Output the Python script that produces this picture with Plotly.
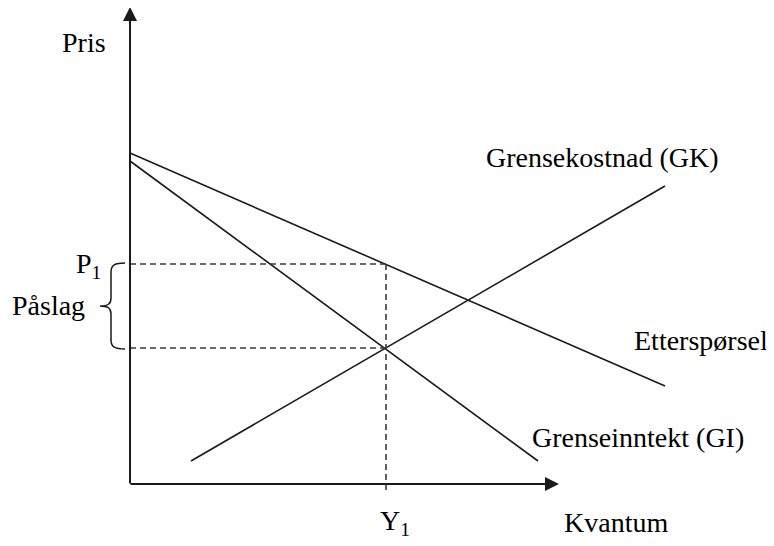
import plotly.graph_objects as go

# Model curves (data units: quantity, price)
demand_q = [0, 535]
demand_p = [331, 98]
mr_q = [0, 408]
mr_p = [323, 23]
mc_q = [61, 535]
mc_p = [23, 298]

Y1 = 256
P1 = 220
MC_AT_Y1 = 136

x_axis_max = 429
y_axis_max = 477

labels = {
    "pris": "Pris",
    "kvantum": "Kvantum",
    "gk": "Grensekostnad (GK)",
    "ett": "Etterspørsel",
    "gi": "Grenseinntekt (GI)",
    "p1": "P<sub>1</sub>",
    "y1": "Y<sub>1</sub>",
    "paslag": "Påslag",
}

FONT = "Liberation Serif, Times New Roman, serif"
LINE = "#1a1a1a"
DASH = "#3a3a3a"
FS = 28

fig = go.Figure()
for q, p in [(demand_q, demand_p), (mr_q, mr_p), (mc_q, mc_p)]:
    fig.add_trace(go.Scatter(x=q, y=p, mode="lines",
                             line=dict(color=LINE, width=1.6),
                             showlegend=False, hoverinfo="skip"))

# dashed guides
dash_style = dict(color=DASH, width=1.6, dash="6px,4px")
fig.add_trace(go.Scatter(x=[0, Y1], y=[P1, P1], mode="lines",
                         line=dash_style, showlegend=False, hoverinfo="skip"))
fig.add_trace(go.Scatter(x=[0, Y1], y=[MC_AT_Y1, MC_AT_Y1], mode="lines",
                         line=dash_style, showlegend=False, hoverinfo="skip"))
fig.add_trace(go.Scatter(x=[Y1, Y1], y=[-6, P1], mode="lines",
                         line=dash_style, showlegend=False, hoverinfo="skip"))

# axes with arrows
fig.add_annotation(x=0, y=y_axis_max, ax=0, ay=-1, xref="x", yref="y",
                   axref="x", ayref="y", showarrow=True, arrowhead=2,
                   arrowsize=1.4, arrowwidth=2, arrowcolor=LINE, text="")
fig.add_annotation(x=x_axis_max, y=0, ax=-1, ay=0, xref="x", yref="y",
                   axref="x", ayref="y", showarrow=True, arrowhead=2,
                   arrowsize=1.4, arrowwidth=2, arrowcolor=LINE, text="")

# brace
mid = (P1 + MC_AT_Y1) / 2
t, b = P1 + 1, MC_AT_Y1 - 1
brace = (f"M -5,{t} C -15,{t} -19,{t-2} -19,{t-9} L -19,{mid+8} "
         f"C -19,{mid+2} -22,{mid} -30,{mid} C -22,{mid} -19,{mid-2} -19,{mid-8} "
         f"L -19,{b+9} C -19,{b+2} -15,{b} -5,{b}")
fig.add_shape(type="path", path=brace, xref="x", yref="y",
              line=dict(color=LINE, width=1.5))


def txt(x, y, s, xanchor="center"):
    fig.add_annotation(x=x, y=y, text=s, xref="x", yref="y", showarrow=False,
                       xanchor=xanchor, yanchor="middle",
                       font=dict(family=FONT, size=FS, color="#000"))


txt(-46, 442, labels["pris"])
txt(-42, 219, labels["p1"])
txt(-82, 179, labels["paslag"])
txt(472, 327, labels["gk"])
txt(502, 144, labels["ett"], xanchor="left")
txt(508, 47, labels["gi"])
txt(Y1 + 9, -38, labels["y1"])
txt(486, -38, labels["kvantum"])

# the page body adds an 8px offset; shift ranges to compensate
fig.update_layout(
    width=774, height=546,
    margin=dict(l=0, r=0, t=0, b=0),
    paper_bgcolor="white", plot_bgcolor="white",
    xaxis=dict(range=[-122, 652], visible=False, fixedrange=True),
    yaxis=dict(range=[-70, 476], visible=False, fixedrange=True),
    showlegend=False,
)

fig.write_html("out.html")
